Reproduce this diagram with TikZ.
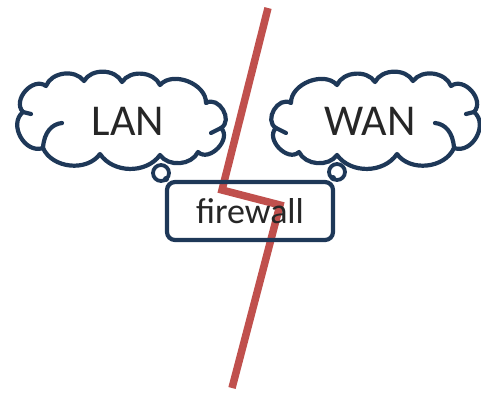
\documentclass[tikz,border=0pt]{standalone}
\usepackage{fontspec}
\setmainfont{Carlito}
\definecolor{navy}{HTML}{1E3858}
\definecolor{redline}{HTML}{C0504D}
\definecolor{txt}{HTML}{262626}
\newcommand\lancloudpath{%
  (23,112) to[bend left=85, looseness=1.2] (46,86)
  to[bend left=62] (84,81)
  to[bend left=62] (122,82)
  to[bend left=62] (160,85)
  to[bend left=70] (206,103)
  to[bend left=90, looseness=1.3] (221,128)
  to[bend left=90, looseness=1.2] (198,152)
  to[bend left=60] (160,155)
  to[bend left=55] (100,154)
  to[bend left=60] (43,148)
  to[bend left=80, looseness=1.2] (23,112) -- cycle}
\newcommand\lancloudinner{%
  (43,148) .. controls (44,132) and (52,124) .. (62,123)
  (23,112) -- (31,114)
  (221,128) -- (211,133)}
\tikzset{
  cloudline/.style={draw=navy, line width=4.2pt, line join=round},
  cloudin/.style={draw=navy, line width=4.2pt, line cap=round},
  label/.style={font=\fontsize{44}{44}\selectfont, text=txt, inner sep=0pt},
  tailbubble/.style={circle, draw=navy, line width=3.8pt, fill=white,
    minimum size=16pt, inner sep=0pt},
  taildot/.style={circle, fill=navy, minimum size=6pt, inner sep=0pt},
  fwbox/.style={draw=navy, line width=4.2pt, rounded corners=8pt,
    minimum width=166pt, minimum height=58pt, inner sep=0pt,
    font=\fontsize{36}{36}\selectfont, text=txt},
  cut/.style={draw=redline, line width=7.5pt}
}
\begin{document}
\begin{tikzpicture}[x=1pt,y=-1pt]
\useasboundingbox (0,0) rectangle (481,392);
\coordinate (c1) at (268,8);
\coordinate (c2) at (222,190);
\coordinate (c3) at (280,205);
\coordinate (c4) at (232,388);
% LAN cloud
\path[cloudline, fill=white] \lancloudpath;
\path[cloudin] \lancloudinner;
\node[label] (lan) at (128,121) {LAN};
\node[tailbubble] (lantail) at (161,173) {};
\node[taildot] (landot) at (166,179) {};
% WAN cloud (mirror of LAN)
\begin{scope}[shift={(497,0)}, xscale=-1]
  \path[cloudline, fill=white] \lancloudpath;
  \path[cloudin] \lancloudinner;
\end{scope}
\node[label] (wan) at (370,121) {WAN};
\node[tailbubble] (wantail) at (337,172) {};
\node[taildot] (wandot) at (333,178) {};
\draw[cut] (c1) -- (c2) -- (c3) -- (c4);
\node[fwbox] (fw) at (250,211) {firewall};
\end{tikzpicture}
\end{document}
